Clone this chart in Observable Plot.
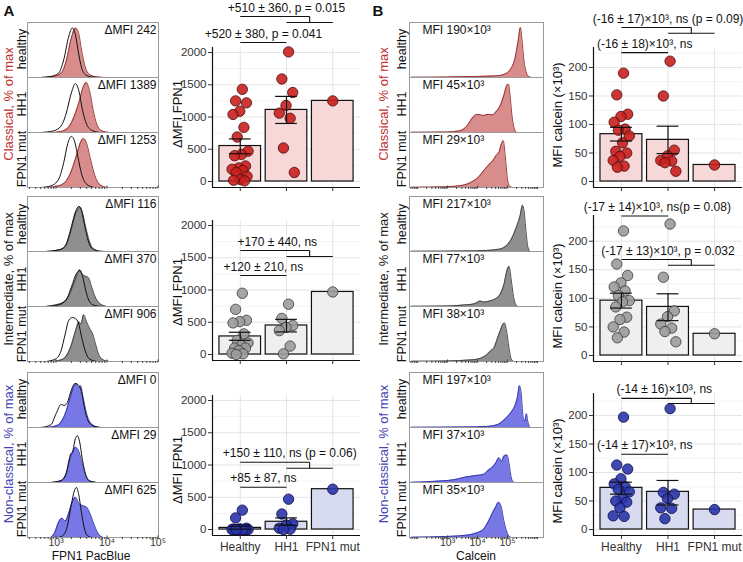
<!DOCTYPE html>
<html><head><meta charset="utf-8">
<script src="https://cdn.jsdelivr.net/npm/d3@7"></script>
<script src="https://cdn.jsdelivr.net/npm/@observablehq/plot@0.6"></script>
<style>
body{margin:0;background:#fff;}
#root{position:relative;width:743px;height:562px;overflow:hidden;background:#fff;font-family:"Liberation Sans",Arial,Helvetica,sans-serif;}
.pl{position:absolute;}
.pl svg{overflow:visible;}
.lbl{position:absolute;white-space:nowrap;line-height:1;}
</style></head><body><div id="root"></div>
<script>
// ---------------- DATA ----------------
const samples = ["healthy", "HH1", "FPN1 mut"];
const categories = ["Healthy", "HH1", "FPN1 mut"];

// Histogram curves: [log10(fluorescence), % of max]
// FPN1 PacBlue – classical
const fpnClassHealthy = [[2.7,0],[2.95,2],[3.1,8],[3.2,30],[3.3,72],[3.38,90],[3.44,82],[3.5,50],[3.57,20],[3.65,6],[3.8,1],[4.0,0]];
const fpnClassHealthyCtrl = [[2.7,0],[2.9,2],[3.05,8],[3.15,32],[3.25,75],[3.32,90],[3.38,78],[3.44,45],[3.5,18],[3.58,5],[3.7,1],[3.9,0]];
const fpnClassHH1 = [[2.9,0],[3.1,2],[3.25,10],[3.35,28],[3.45,55],[3.53,82],[3.59,91],[3.66,75],[3.73,40],[3.8,15],[3.9,3],[4.05,0]];
const fpnClassHH1Ctrl = [[2.7,0],[2.95,3],[3.1,12],[3.2,35],[3.3,72],[3.38,89],[3.45,75],[3.52,40],[3.6,15],[3.7,4],[3.85,0]];
const fpnClassMut = [[2.8,0],[3.05,3],[3.2,12],[3.3,30],[3.4,58],[3.48,82],[3.54,89],[3.6,80],[3.68,50],[3.76,22],[3.85,6],[4.0,0]];
const fpnClassMutCtrl = [[2.7,0],[2.9,3],[3.05,15],[3.15,45],[3.23,80],[3.3,93],[3.36,85],[3.43,55],[3.5,25],[3.6,6],[3.75,0]];
// FPN1 PacBlue – intermediate
const fpnInterHealthy = [[2.8,0],[3.0,2],[3.12,5],[3.2,12],[3.3,40],[3.38,68],[3.44,78],[3.47,81],[3.52,70],[3.58,45],[3.65,20],[3.72,6],[3.85,1],[4.0,0]];
const fpnInterHealthyCtrl = [[2.8,0],[3.0,2],[3.12,5],[3.2,14],[3.3,45],[3.38,72],[3.45,82],[3.5,74],[3.56,48],[3.63,20],[3.7,6],[3.85,0]];
const fpnInterHH1 = [[2.8,0],[3.0,3],[3.15,8],[3.25,20],[3.35,42],[3.42,60],[3.47,67],[3.52,58],[3.58,55],[3.64,52],[3.7,35],[3.78,15],[3.88,4],[4.0,0]];
const fpnInterHH1Ctrl = [[2.8,0],[3.05,3],[3.2,12],[3.3,35],[3.4,60],[3.46,65],[3.52,55],[3.58,30],[3.65,10],[3.75,2],[3.9,0]];
const fpnInterMut = [[2.9,0],[3.1,3],[3.2,10],[3.3,30],[3.38,55],[3.45,72],[3.49,68],[3.54,85],[3.6,72],[3.66,60],[3.72,50],[3.78,30],[3.85,10],[3.95,2],[4.05,0]];
const fpnInterMutCtrl = [[2.8,0],[3.0,5],[3.1,20],[3.18,50],[3.25,75],[3.32,80],[3.38,78],[3.44,70],[3.5,45],[3.57,20],[3.65,5],[3.8,0]];
// FPN1 PacBlue – non-classical
const fpnNonHealthy = [[2.8,0],[3.0,3],[3.1,10],[3.2,30],[3.28,55],[3.35,75],[3.4,80],[3.44,72],[3.48,76],[3.53,55],[3.6,25],[3.7,6],[3.85,0]];
const fpnNonHealthyCtrl = [[2.7,0],[2.9,5],[3.0,25],[3.1,42],[3.16,40],[3.22,45],[3.3,68],[3.37,80],[3.43,78],[3.5,65],[3.56,35],[3.63,12],[3.75,2],[3.9,0]];
const fpnNonHH1 = [[2.9,0],[3.1,3],[3.2,15],[3.28,45],[3.33,55],[3.38,64],[3.43,60],[3.5,40],[3.57,15],[3.65,3],[3.8,0]];
const fpnNonHH1Ctrl = [[2.9,0],[3.1,4],[3.2,18],[3.28,50],[3.33,58],[3.38,80],[3.42,85],[3.46,75],[3.52,40],[3.58,15],[3.66,3],[3.8,0]];
const fpnNonMut = [[2.9,0],[2.98,10],[3.05,28],[3.12,35],[3.18,30],[3.25,45],[3.32,65],[3.38,73],[3.45,62],[3.52,58],[3.6,55],[3.66,45],[3.74,25],[3.82,8],[3.92,0]];
const fpnNonMutCtrl = [[3.05,0],[3.15,5],[3.22,20],[3.3,60],[3.36,85],[3.4,91],[3.44,80],[3.5,45],[3.56,15],[3.62,3],[3.7,0]];

// Calcein – classical / intermediate / non-classical
const calClassHealthy = [[1.8,0.5],[3.0,1],[4.0,2],[4.6,3],[4.9,6],[5.1,15],[5.25,35],[5.35,65],[5.43,91],[5.48,70],[5.55,30],[5.62,10],[5.7,2],[5.8,0]];
const calClassHH1 = [[1.8,0.5],[3.0,1],[3.4,3],[3.65,12],[3.85,28],[4.0,33],[4.2,31],[4.35,33],[4.5,32],[4.62,38],[4.75,48],[4.88,68],[4.97,85],[5.03,88],[5.08,70],[5.15,30],[5.22,8],[5.3,0]];
const calClassMut = [[1.8,0.5],[3.0,1.5],[3.5,4],[3.8,10],[4.05,20],[4.2,30],[4.35,40],[4.5,48],[4.62,58],[4.72,65],[4.8,80],[4.86,85],[4.92,60],[5.0,15],[5.08,2],[5.15,0]];
const calInterHealthy = [[1.8,0.5],[3.5,1],[4.3,2],[4.7,4],[4.95,10],[5.15,25],[5.3,45],[5.42,65],[5.5,84],[5.55,75],[5.62,35],[5.68,8],[5.75,0]];
const calInterHH1 = [[1.8,0.5],[3.0,1],[3.6,3],[3.9,5],[4.1,10],[4.2,8],[4.4,10],[4.6,14],[4.75,22],[4.88,40],[4.98,65],[5.05,73],[5.12,50],[5.2,18],[5.28,3],[5.35,0]];
const calInterMut = [[1.8,0.5],[3.0,1],[3.8,3],[4.1,6],[4.3,12],[4.45,20],[4.55,25],[4.65,40],[4.75,55],[4.85,68],[4.9,70],[4.97,55],[5.05,25],[5.12,5],[5.2,0]];
const calNonHealthy = [[1.8,0.5],[3.5,1],[4.3,2],[4.65,5],[4.85,12],[5.0,20],[5.15,30],[5.25,40],[5.33,55],[5.4,76],[5.45,65],[5.52,20],[5.58,12],[5.63,25],[5.68,10],[5.75,0]];
const calNonHH1 = [[1.8,0.5],[2.5,2],[3.2,5],[3.6,10],[3.85,12],[4.0,13],[4.2,15],[4.35,22],[4.5,28],[4.6,35],[4.72,45],[4.8,38],[4.88,48],[4.98,50],[5.05,35],[5.12,10],[5.2,0]];
const calNonMut = [[1.8,0.5],[3.0,2],[3.6,4],[3.95,8],[4.2,15],[4.35,28],[4.5,45],[4.6,55],[4.7,64],[4.78,58],[4.88,30],[4.98,10],[5.06,2],[5.12,0]];

// Histogram annotations
const fpnClassDMFI = [242, 1389, 1253];
const fpnInterDMFI = [116, 370, 906];
const fpnNonDMFI = [0, 29, 625];
const calClassMFI = [190, 45, 29];
const calInterMFI = [217, 77, 38];
const calNonMFI = [197, 37, 35];

// Bar chart data: ΔMFI FPN1
const dmfiClassHealthy = [1430,1250,1220,1090,1040,840,690,470,420,400,240,210,190,170,140,80,30,20,10];
const dmfiClassHH1 = [2010,1590,1380,1180,1060,980,520,140];
const dmfiClassMut = [1250];
const dmfiClassMean = [550, 1110, 1250];
const dmfiClassSeLo = [430, 900, null];
const dmfiClassSeHi = [660, 1320, null];

const dmfiInterHealthy = [950,700,530,510,490,320,220,180,140,100,100,60,20,10,0];
const dmfiInterHH1 = [780,560,450,420,370,130,10];
const dmfiInterMut = [970];
const dmfiInterMean = [280, 450, 970];
const dmfiInterSeLo = [220, 350, null];
const dmfiInterSeHi = [345, 545, null];

const dmfiNonHealthy = [300,180,20,10,5,0,0,0,0,0,0,0,0,0,0];
const dmfiNonHH1 = [470,240,90,70,20,5,0];
const dmfiNonMut = [625];
const dmfiNonMean = [25, 120, 625];
const dmfiNonSeLo = [5, 65, null];
const dmfiNonSeHi = [50, 180, null];

// Bar chart data: MFI calcein (×10³)
const calcClassHealthy = [190,152,118,114,104,92,90,80,68,53,50,44,37,27,25];
const calcClassHH1 = [211,150,55,45,37,36,33,18];
const calcClassMut = [29];
const calcClassMean = [83, 73, 29];
const calcClassSeLo = [71, 49, null];
const calcClassSeHi = [95, 97, null];

const calcInterHealthy = [218,160,140,127,120,113,105,96,94,85,67,63,50,41,31];
const calcInterHH1 = [230,137,78,68,55,48,42,24];
const calcInterMut = [38];
const calcInterMean = [96, 85, 38];
const calcInterSeLo = [83, 61, null];
const calcInterSeHi = [109, 108, null];

const calcNonHealthy = [197,113,106,89,80,75,70,66,55,50,48,38,24,23];
const calcNonHH1 = [212,65,62,54,38,37,19];
const calcNonMut = [35];
const calcNonMean = [73, 66, 35];
const calcNonSeLo = [62, 43, null];
const calcNonSeHi = [83, 86, null];

// Statistical test labels: [Healthy vs HH1, Healthy vs (HH1 + FPN1 mut)]
const dmfiClassTests = ["+520 ± 380, p = 0.041", "+510 ± 360, p = 0.015"];
const dmfiInterTests = ["+120 ± 210, ns", "+170 ± 440, ns"];
const dmfiNonTests = ["+85 ± 87, ns", "+150 ± 110, ns (p = 0.06)"];
const calcClassTests = ["(-16 ± 18)×10³, ns", "(-16 ± 17)×10³, ns (p = 0.09)"];
const calcInterTests = ["(-17 ± 14)×10³, ns(p = 0.08)", "(-17 ± 13)×10³, p = 0.032"];
const calcNonTests = ["(-14 ± 17)×10³, ns", "(-14 ± 16)×10³, ns"];

// ---------------- RENDER ----------------
const root = document.getElementById("root");
const FONT = '"Liberation Sans", Arial, Helvetica, sans-serif';
const SUP = {"1":"¹","2":"²","3":"³","4":"⁴","5":"⁵","6":"⁶"};
const RED = {fill:"#d98c8c", line:"#8e2a2a", bar:"#f7d8d8", dot:"#c8201e", dotStroke:"#4a0c0c", text:"#c03030"};
const GRAY = {fill:"#8f8f8f", line:"#3a3a3a", bar:"#efefef", dot:"#9b9b9b", dotStroke:"#3a3a3a", text:"#222"};
const BLUE = {fill:"#7777e6", line:"#3030a6", bar:"#d8daf0", dot:"#2a35a8", dotStroke:"#0c0c4a", text:"#4545b5"};

function place(node, left, top) {
  const w = document.createElement("div");
  w.className = "pl"; w.style.left = left + "px"; w.style.top = top + "px";
  w.appendChild(node); root.appendChild(w);
}
function label(text, x, y, {size = 12, color = "#111", rot = 0, weight = "normal"} = {}) {
  const d = document.createElement("div");
  d.className = "lbl"; d.textContent = text;
  d.style.left = x + "px"; d.style.top = y + "px";
  d.style.fontSize = size + "px"; d.style.color = color; d.style.fontWeight = weight;
  d.style.transform = `translate(-50%,-50%) rotate(${rot}deg)`;
  root.appendChild(d);
}
function decadeTicks(lo, hi) {
  const t = [];
  for (let e = lo; e <= hi; e++) for (let m = 1; m <= 9; m++) t.push(m * 10 ** e);
  return t;
}

function histogram(o) {
  const toRows = (arrs) => arrs.flatMap((arr, i) => arr.map(([lx, pct]) => ({sample: samples[i], x: 10 ** lx, pct})));
  const fillData = toRows(o.fills);
  const ctrlData = o.ctrls ? toRows(o.ctrls) : [];
  const notes = o.notes.map((t, i) => ({sample: samples[i], t}));
  const mb = o.tickLabels ? 14 : 6;
  const [d0, d1] = o.xdomain;
  const minors = decadeTicks(Math.floor(Math.log10(d0)), Math.floor(Math.log10(d1)))
    .filter(v => v >= d0 && v <= d1 && ![1e3, 1e4, 1e5].includes(v));
  const marks = [
    Plot.areaY(fillData, {x: "x", y: "pct", fy: "sample", fill: o.col.fill, curve: "monotone-x", clip: true}),
    Plot.lineY(fillData, {x: "x", y: "pct", fy: "sample", stroke: o.col.line, strokeWidth: 0.9, curve: "monotone-x", clip: true})
  ];
  if (ctrlData.length) marks.push(Plot.lineY(ctrlData, {x: "x", y: "pct", fy: "sample", stroke: "#111", strokeWidth: 1, curve: "monotone-x", clip: true}));
  marks.push(
    Plot.frame({stroke: "#9a9a9a"}),
    Plot.text(notes, {fy: "sample", text: "t", frameAnchor: o.noteAnchor, textAnchor: o.noteAnchor === "top-right" ? "end" : "start",
      dx: o.noteDx, dy: 3, fontSize: 12, fill: "#111"}),
    Plot.axisX({ticks: [1e3, 1e4, 1e5], tickFormat: o.tickLabels ? (d => "10" + SUP[Math.round(Math.log10(d))]) : (() => ""),
      tickSize: 3, tickPadding: 0, dy: -1.5, label: null, fontSize: 10.5, stroke: "#444", fill: "#333"}),
    Plot.axisX({ticks: minors, tickFormat: () => "", tickSize: 2, label: null, stroke: "#444"})
  );
  return Plot.plot({
    width: o.width, height: 1 + 165 + mb,
    marginTop: 1, marginBottom: mb, marginLeft: 1, marginRight: 1,
    x: {type: "log", domain: o.xdomain},
    y: {domain: [0, 100], axis: null},
    fy: {domain: samples, padding: 0, axis: null},
    style: {fontFamily: FONT, fontSize: "10.5px", background: "transparent", color: "#333"},
    marks
  });
}

function jitter(k, n) { return n === 1 ? 0 : ((((k + 1) * 0.618034) % 1) - 0.5) * 0.38; }

function barPanel(o) {
  const pts = o.groups.flatMap((arr, i) => arr.map((v, k) => ({i, v, j: jitter(k, arr.length)})));
  const bars = o.means.map((m, i) => ({i, m}));
  const errs = o.means.map((m, i) => ({i, lo: o.lo[i], hi: o.hi[i]})).filter(d => d.lo != null);
  const caps = errs.flatMap(d => [{i: d.i, v: d.lo}, {i: d.i, v: d.hi}]);
  const segs = [], texts = [];
  o.brackets.forEach((b) => {
    const lab = o.tests[b.kind === "simple" ? 0 : 1];
    if (b.kind === "simple") {
      segs.push({x1: 0, x2: 1, y1: b.y, y2: b.y});
      texts.push({x: b.tx ?? 0.5, y: b.y, t: lab});
    } else {
      segs.push({x1: 0, x2: 1.5, y1: b.y, y2: b.y}, {x1: 1.5, x2: 1.5, y1: b.y, y2: b.y2}, {x1: 1, x2: 2, y1: b.y2, y2: b.y2});
      texts.push({x: b.tx ?? 1, y: b.y, t: lab});
    }
  });
  return Plot.plot({
    width: o.width, height: o.height,
    marginTop: o.mt, marginBottom: o.mb, marginLeft: o.ml, marginRight: o.mr,
    x: {domain: [-0.6, 2.6]},
    y: {domain: o.ydomain},
    style: {fontFamily: FONT, fontSize: "11.5px", background: "transparent", color: "#333"},
    marks: [
      Plot.ruleY(o.minor, {stroke: "#f3f3f3", strokeWidth: 1}),
      Plot.ruleY(o.ticks, {stroke: "#e4e4e4", strokeWidth: 1}),
      Plot.ruleX([0, 1, 2], {stroke: "#e4e4e4", strokeWidth: 1}),
      Plot.rect(bars, {x1: d => d.i - 0.45, x2: d => d.i + 0.45, y1: 0, y2: "m", fill: o.col.bar, stroke: "#111", strokeWidth: 1.2}),
      Plot.dot(pts, {x: d => d.i + d.j, y: "v", r: 5.2, fill: o.col.dot, stroke: o.col.dotStroke, strokeWidth: 0.8, fillOpacity: 0.9}),
      Plot.ruleX(errs, {x: "i", y1: "lo", y2: "hi", stroke: "#111", strokeWidth: 1.2}),
      Plot.ruleY(caps, {y: "v", x1: d => d.i - 0.235, x2: d => d.i + 0.235, stroke: "#111", strokeWidth: 1.2}),
      Plot.ruleX([-0.6], {stroke: "#111", strokeWidth: 1.2}),
      Plot.ruleY([o.ydomain[0]], {stroke: "#111", strokeWidth: 1.2}),
      Plot.axisY({ticks: o.ticks, tickFormat: d => String(d), tickSize: 4, tickPadding: 2, label: null, fontSize: 11.5, stroke: "#333"}),
      Plot.axisX({ticks: [0, 1, 2], tickFormat: i => o.showX ? categories[i] : "", tickSize: 4, tickPadding: 3, label: null, fontSize: 12, stroke: "#333"}),
      Plot.link(segs, {x1: "x1", y1: "y1", x2: "x2", y2: "y2", stroke: "#111", strokeWidth: 1.1}),
      Plot.text(texts, {x: "x", y: "y", text: "t", lineAnchor: "bottom", dy: -5, fontSize: 12, fill: "#111"})
    ]
  });
}

// ---- Histograms ----
const rowTops = [21.5, 196, 371.7];
const fpnDom = [10 ** 2.44, 10 ** 5.01];
const calDom = [10 ** 1.73, 10 ** 6.2];
const fmtD = arr => arr.map(v => "ΔMFI " + v);
const fmtM = arr => arr.map(v => "MFI " + v + "×10³");

place(histogram({width: 133, xdomain: fpnDom, col: RED, fills: [fpnClassHealthy, fpnClassHH1, fpnClassMut],
  ctrls: [fpnClassHealthyCtrl, fpnClassHH1Ctrl, fpnClassMutCtrl], notes: fmtD(fpnClassDMFI), noteAnchor: "top-right", noteDx: -2, tickLabels: false}), 26, rowTops[0] - 1);
place(histogram({width: 133, xdomain: fpnDom, col: GRAY, fills: [fpnInterHealthy, fpnInterHH1, fpnInterMut],
  ctrls: [fpnInterHealthyCtrl, fpnInterHH1Ctrl, fpnInterMutCtrl], notes: fmtD(fpnInterDMFI), noteAnchor: "top-right", noteDx: -2, tickLabels: false}), 26, rowTops[1] - 1);
place(histogram({width: 133, xdomain: fpnDom, col: BLUE, fills: [fpnNonHealthy, fpnNonHH1, fpnNonMut],
  ctrls: [fpnNonHealthyCtrl, fpnNonHH1Ctrl, fpnNonMutCtrl], notes: fmtD(fpnNonDMFI), noteAnchor: "top-right", noteDx: -2, tickLabels: true}), 26, rowTops[2] - 1);

place(histogram({width: 136, xdomain: calDom, col: RED, fills: [calClassHealthy, calClassHH1, calClassMut],
  notes: fmtM(calClassMFI), noteAnchor: "top-left", noteDx: 13, tickLabels: false}), 408, rowTops[0] - 1);
place(histogram({width: 136, xdomain: calDom, col: GRAY, fills: [calInterHealthy, calInterHH1, calInterMut],
  notes: fmtM(calInterMFI), noteAnchor: "top-left", noteDx: 13, tickLabels: false}), 408, rowTops[1] - 1);
place(histogram({width: 136, xdomain: calDom, col: BLUE, fills: [calNonHealthy, calNonHH1, calNonMut],
  notes: fmtM(calNonMFI), noteAnchor: "top-left", noteDx: 13, tickLabels: true}), 408, rowTops[2] - 1);

// ---- Bar charts ----
const aTicks = [0, 500, 1000, 1500, 2000], aMinor = [250, 750, 1250, 1750];
const bTicks = [0, 50, 100, 150, 200], bMinor = [25, 75, 125, 175, 225];
const aBase = {width: 195, ml: 42, mr: 5, ticks: aTicks, minor: aMinor};
const bBase = {width: 203, ml: 53, mr: 1, ticks: bTicks, minor: bMinor};

place(barPanel({...aBase, height: 200, mt: 47, mb: 13, ydomain: [-93, 2078], col: RED,
  groups: [dmfiClassHealthy, dmfiClassHH1, dmfiClassMut], means: dmfiClassMean, lo: dmfiClassSeLo, hi: dmfiClassSeHi,
  tests: dmfiClassTests, brackets: [{kind: "simple", y: 2155}, {kind: "combined", y: 2558, y2: 2465}], showX: false}), 170, 0);
place(barPanel({...aBase, height: 200, mt: 35, mb: 25, ydomain: [-93, 2078], col: GRAY,
  groups: [dmfiInterHealthy, dmfiInterHH1, dmfiInterMut], means: dmfiInterMean, lo: dmfiInterSeLo, hi: dmfiInterSeHi,
  tests: dmfiInterTests, brackets: [{kind: "simple", y: 1225}, {kind: "combined", y: 1612, y2: 1519, tx: 0.8}], showX: false}), 170, 185);
place(barPanel({...aBase, height: 192, mt: 25, mb: 27, ydomain: [-93, 2078], col: BLUE,
  groups: [dmfiNonHealthy, dmfiNonHH1, dmfiNonMut], means: dmfiNonMean, lo: dmfiNonSeLo, hi: dmfiNonSeHi,
  tests: dmfiNonTests, brackets: [{kind: "simple", y: 656}, {kind: "combined", y: 1043, y2: 950, tx: 1.07}], showX: true}), 170, 370);

place(barPanel({...bBase, height: 200, mt: 47, mb: 13, ydomain: [-10.5, 235], col: RED,
  groups: [calcClassHealthy, calcClassHH1, calcClassMut], means: calcClassMean, lo: calcClassSeLo, hi: calcClassSeHi,
  tests: calcClassTests, brackets: [{kind: "simple", y: 226}, {kind: "combined", y: 270, y2: 260}], showX: false}), 540, 0);
place(barPanel({...bBase, height: 200, mt: 30, mb: 24, ydomain: [-10.5, 245], col: GRAY,
  groups: [calcInterHealthy, calcInterHH1, calcInterMut], means: calcInterMean, lo: calcInterSeLo, hi: calcInterSeHi,
  tests: calcInterTests, brackets: [{kind: "simple", y: 244, tx: 0.77}, {kind: "combined", y: 168, y2: 158}], showX: false}), 540, 185);
place(barPanel({...bBase, height: 192, mt: 23, mb: 27, ydomain: [-10.5, 238.5], col: BLUE,
  groups: [calcNonHealthy, calcNonHH1, calcNonMut], means: calcNonMean, lo: calcNonSeLo, hi: calcNonSeHi,
  tests: calcNonTests, brackets: [{kind: "simple", y: 132}, {kind: "combined", y: 230, y2: 221, tx: 0.92}], showX: true}), 540, 370);

// ---- Text labels ----
label("A", 9, 10, {size: 15, weight: "bold"});
label("B", 378, 10, {size: 15, weight: "bold"});
const rowNames = ["Classical, % of max", "Intermediate, % of max", "Non-classical, % of max"];
const rowCols = [RED.text, "#222", BLUE.text];
rowTops.forEach((t, r) => {
  label(rowNames[r], 8, t + 82.5, {size: 13, color: rowCols[r], rot: -90});
  label(rowNames[r], 383, t + 82.5, {size: 13, color: rowCols[r], rot: -90});
  samples.forEach((s, k) => {
    label(s, 21.5, t + 27.5 + 55 * k, {size: 12.5, rot: -90});
    label(s, 402, t + 27.5 + 55 * k, {size: 12.5, rot: -90});
  });
});
[114, 292, 470].forEach(y => label("ΔMFI FPN1", 177, y, {size: 13, color: "#111", rot: -90}));
[115, 296, 471].forEach(y => label("MFI calcein (×10³)", 557, y, {size: 13, color: "#111", rot: -90}));
label("FPN1 PacBlue", 91, 556, {size: 12});
label("Calcein", 476, 556, {size: 12});
</script></body></html>
